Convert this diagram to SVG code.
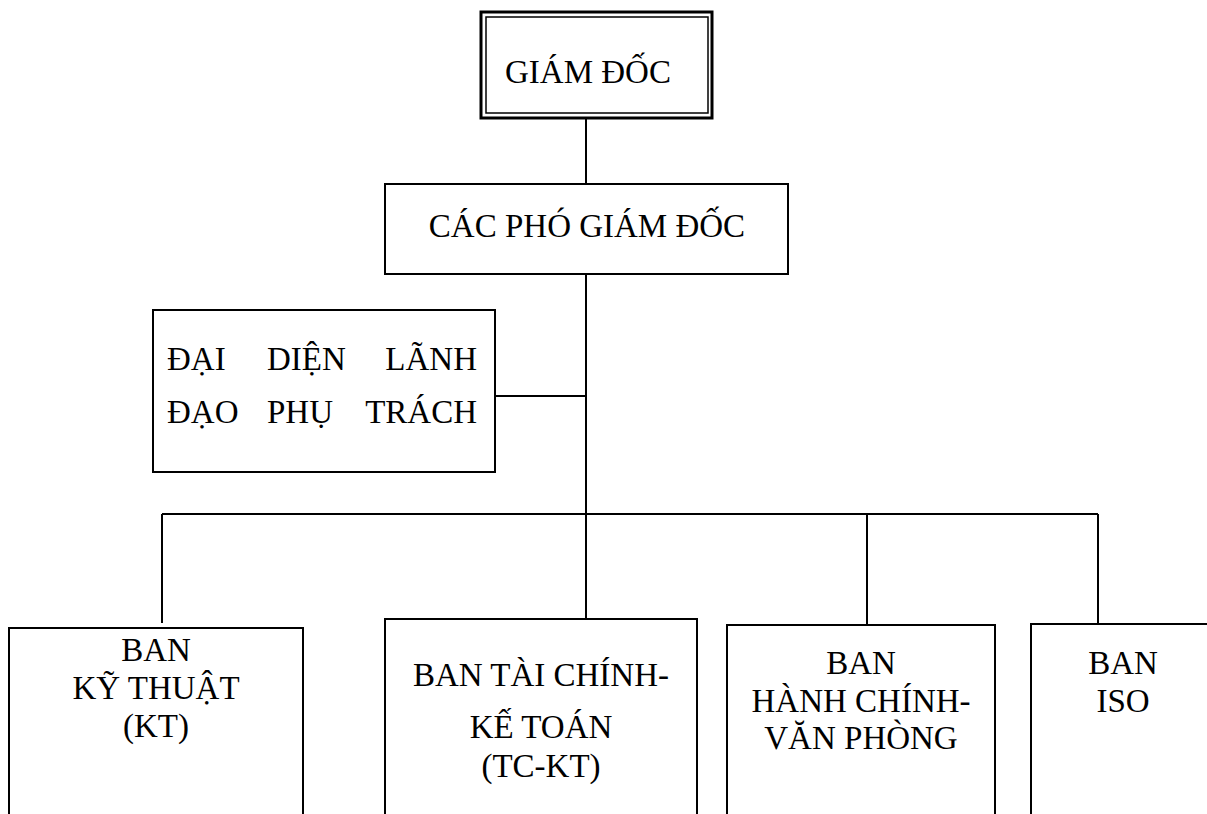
<svg xmlns="http://www.w3.org/2000/svg" width="1207" height="814" viewBox="0 0 1207 814">
  <style>
    .box { fill: #ffffff; stroke: #000000; stroke-width: 2; }
    .outer { fill: #ffffff; stroke: #000000; stroke-width: 3; }
    .inner { fill: none; stroke: #000000; stroke-width: 1.5; }
    .wire { fill: none; stroke: #000000; stroke-width: 2; }
    text { font-family: "Liberation Serif", "Times New Roman", "DejaVu Serif", serif; font-size: 33px; fill: #000000; }
    .c { text-anchor: middle; }
    .e { text-anchor: end; }
  </style>
  <rect width="1207" height="814" fill="#ffffff"/>

  <!-- connectors -->
  <g id="connectors">
    <line class="wire" x1="586" y1="118" x2="586" y2="184"/>
    <line class="wire" x1="586" y1="274" x2="586" y2="619"/>
    <line class="wire" x1="495" y1="396" x2="586" y2="396"/>
    <line class="wire" x1="162" y1="514" x2="1098" y2="514"/>
    <line class="wire" x1="162" y1="514" x2="162" y2="623"/>
    <line class="wire" x1="867" y1="514" x2="867" y2="625"/>
    <line class="wire" x1="1098" y1="514" x2="1098" y2="624"/>
  </g>

  <!-- director -->
  <g id="giam-doc">
    <rect class="outer" x="481" y="12" width="231" height="106"/>
    <rect class="inner" x="486" y="17" width="222" height="96"/>
    <text class="c" x="588" y="83">GIÁM ĐỐC</text>
  </g>

  <!-- deputy directors -->
  <g id="pho-giam-doc">
    <rect class="box" x="385" y="184" width="403" height="90"/>
    <text class="c" x="587" y="237">CÁC PHÓ GIÁM ĐỐC</text>
  </g>

  <!-- management representative -->
  <g id="dai-dien">
    <rect class="box" x="153" y="310" width="342" height="162"/>
    <text x="167" y="370">ĐẠI</text>
    <text x="267" y="370">DIỆN</text>
    <text class="e" x="477" y="370">LÃNH</text>
    <text x="167" y="423">ĐẠO</text>
    <text x="267" y="423">PHỤ</text>
    <text class="e" x="477" y="423">TRÁCH</text>
  </g>

  <!-- departments -->
  <g id="ban-kt">
    <rect class="box" x="9" y="628" width="294" height="200"/>
    <text class="c" x="156" y="661">BAN</text>
    <text class="c" x="156" y="699">KỸ THUẬT</text>
    <text class="c" x="156" y="737">(KT)</text>
  </g>

  <g id="ban-tckt">
    <rect class="box" x="385" y="619" width="312" height="210"/>
    <text class="c" x="541" y="686">BAN TÀI CHÍNH-</text>
    <text class="c" x="541" y="738">KẾ TOÁN</text>
    <text class="c" x="541" y="777">(TC-KT)</text>
  </g>

  <g id="ban-hcvp">
    <rect class="box" x="727" y="625" width="268" height="204"/>
    <text class="c" x="861" y="674">BAN</text>
    <text class="c" x="861" y="712">HÀNH CHÍNH-</text>
    <text class="c" x="861" y="749">VĂN PHÒNG</text>
  </g>

  <g id="ban-iso">
    <rect class="box" x="1031" y="624" width="190" height="205"/>
    <text class="c" x="1123" y="674">BAN</text>
    <text class="c" x="1123" y="712">ISO</text>
  </g>
</svg>
